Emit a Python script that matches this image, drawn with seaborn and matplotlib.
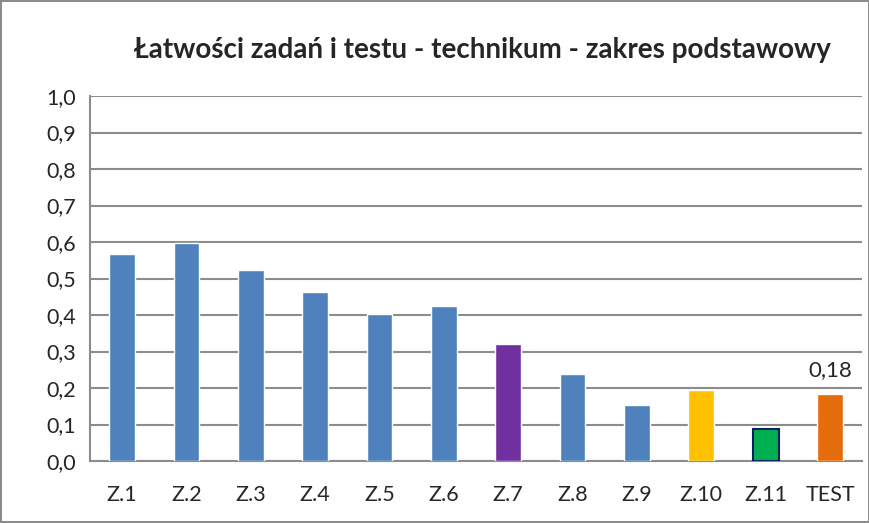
import matplotlib
matplotlib.use('Agg')
import matplotlib.pyplot as plt
import seaborn as sns
import pandas as pd
import numpy as np

# values
zadania = ['Z.1', 'Z.2', 'Z.3', 'Z.4', 'Z.5', 'Z.6', 'Z.7', 'Z.8', 'Z.9', 'Z.10', 'Z.11', 'TEST']
latwosc = [0.567, 0.598, 0.523, 0.463, 0.404, 0.425, 0.320, 0.238, 0.153, 0.195, 0.087, 0.183]
kolory = ['#4F81BD'] * 6 + ['#7030A0', '#4F81BD', '#4F81BD', '#FFC000', '#00B050', '#E46C0A']
etykieta_test = '0,18'

sns.set_style('white')
plt.rcParams['font.family'] = ['Lato', 'DejaVu Sans']

df = pd.DataFrame({'zadanie': zadania, 'latwosc': latwosc})

fig = plt.figure(figsize=(8.7, 5.23), dpi=100, edgecolor='#8c8c8c', linewidth=1.5)
ax = fig.add_axes([0.1034, 0.1185, 0.8876, 0.6979])

sns.barplot(data=df, x='zadanie', y='latwosc', hue='zadanie', palette=kolory,
            width=0.4, legend=False, saturation=1, ax=ax, zorder=3)

# Z.11 has a dark outline
ax.patches[10].set_edgecolor('#002060')
ax.patches[10].set_linewidth(1.5)

ax.text(11, latwosc[11] + 0.04, etykieta_test, ha='center', va='bottom', fontsize=16)

ax.set_ylim(0, 1.0)
ax.set_xlim(-0.5, len(zadania) - 0.5)
yt = np.arange(0, 1.01, 0.1)
ax.set_yticks(yt)
ax.set_yticklabels([f'{v:.1f}'.replace('.', ',') for v in yt], fontsize=15.5)
ax.tick_params(axis='x', which='major', length=0, labelsize=15.5, pad=17)
ax.set_xticks(np.arange(-0.5, len(zadania), 1), minor=True)
ax.tick_params(axis='x', which='minor', length=7, width=1.2, color='#8c8c8c', direction='out')
ax.tick_params(axis='y', length=6, width=1.2, color='#8c8c8c', direction='out', pad=4)
ax.set_xlabel('')
ax.set_ylabel('')

ax.yaxis.grid(True, color='#8c8c8c', linewidth=1.5, zorder=0)
ax.set_axisbelow(True)
for s in ['top', 'right']:
    ax.spines[s].set_visible(False)
for s in ['left', 'bottom']:
    ax.spines[s].set_color('#8c8c8c')
    ax.spines[s].set_linewidth(1.5)

fig.text(0.554, 0.904, 'Łatwości zadań i testu - technikum - zakres podstawowy',
         ha='center', va='center', fontsize=20, fontweight='bold')

fig.savefig('out.png', dpi=100, edgecolor=fig.get_edgecolor())
